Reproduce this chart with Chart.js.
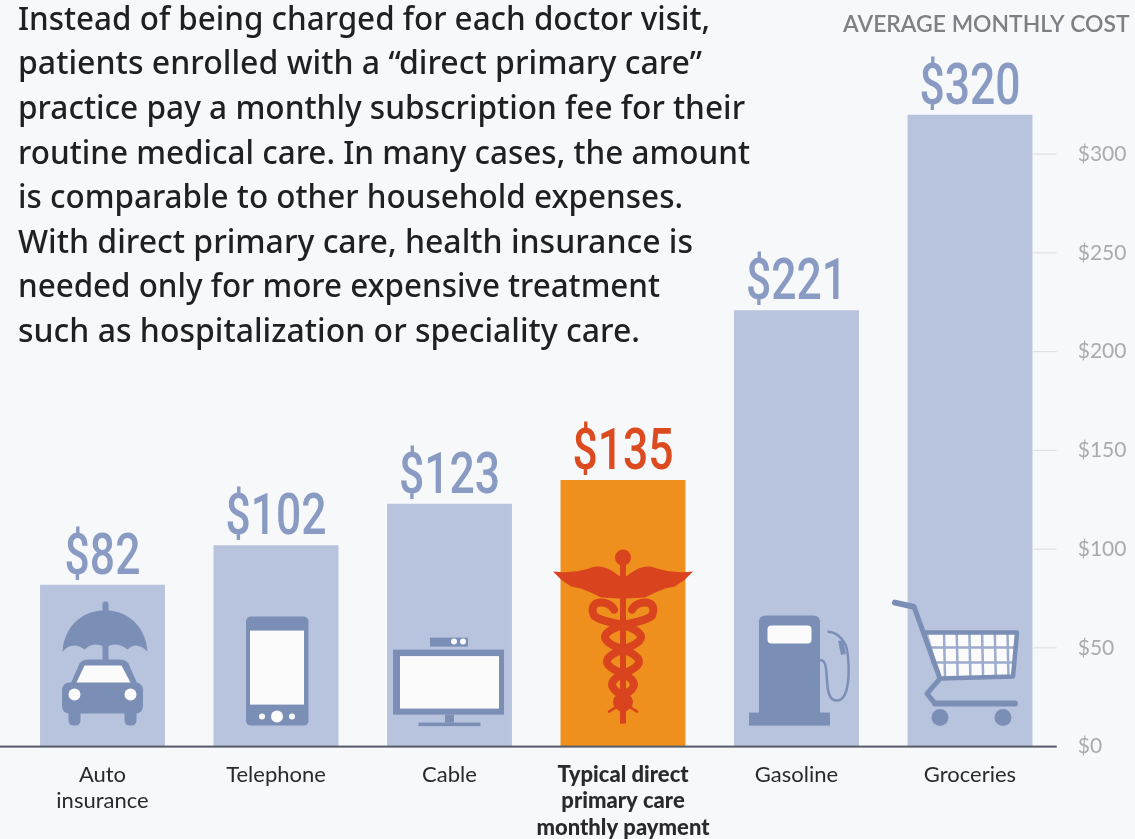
<!DOCTYPE html>
<html>
<head>
<meta charset="utf-8">
<title>Average monthly cost</title>
<script src="https://cdn.jsdelivr.net/npm/chart.js@4"></script>
<style>
	html, body { margin: 0; padding: 0; background: #f7f8fa; }
	canvas { display: block; }
</style>
</head>
<body>
<canvas id="cost-chart" width="1135" height="839"></canvas>
<script>
const categories = [
	["Auto", "insurance"],
	"Telephone",
	"Cable",
	["Typical direct", "primary care", "monthly payment"],
	"Gasoline",
	"Groceries",
];
const monthlyCost = [82, 102, 123, 135, 221, 320];
const yTickValues = [0, 50, 100, 150, 200, 250, 300];
const highlightIndex = 3;
const axisTitle = "AVERAGE MONTHLY COST";
const introLines = [
	"Instead of being charged for each doctor visit,",
	"patients enrolled with a \u201cdirect primary care\u201d",
	"practice pay a monthly subscription fee for their",
	"routine medical care. In many cases, the amount",
	"is comparable to other household expenses.",
	"With direct primary care, health insurance is",
	"needed only for more expensive treatment",
	"such as hospitalization or speciality care.",
];
const introLineEnds = [710, 702, 745, 750, 683, 693, 660, 640];

const BAR_BLUE = "#b8c3de";
const BAR_ORANGE = "#ee8f1e";
const LABEL_BLUE = "#8a9bc3";
const LABEL_RED = "#dc4a1f";
const ICON_BLUE = "#7b8fb6";
const ICON_RED = "#d9441f";
const ICON_WHITE = "#fbfbfc";

function roundRect(ctx, x, y, w, h, r) {
	ctx.beginPath();
	ctx.roundRect(x, y, w, h, r);
	ctx.fill();
}

function circle(ctx, x, y, r) {
	ctx.beginPath();
	ctx.arc(x, y, r, 0, Math.PI * 2);
	ctx.fill();
}

// All icons are drawn with the origin at the bar centre on the baseline
function drawCar(ctx) {
	ctx.fillStyle = ICON_BLUE;
	// umbrella
	roundRect(ctx, 0, -145, 6, 62, 3);
	ctx.beginPath();
	ctx.moveTo(-40, -95);
	ctx.bezierCurveTo(-36, -150, 41, -150, 45, -95);
	ctx.quadraticCurveTo(34, -106, 25, -97);
	ctx.quadraticCurveTo(14, -106, 3, -99);
	ctx.quadraticCurveTo(-8, -106, -18, -97);
	ctx.quadraticCurveTo(-30, -106, -40, -95);
	ctx.fill();
	// car
	ctx.beginPath();
	ctx.moveTo(-33, -60);
	ctx.lineTo(-23, -83);
	ctx.quadraticCurveTo(-20, -87, -14, -87);
	ctx.lineTo(17, -87);
	ctx.quadraticCurveTo(23, -87, 26, -83);
	ctx.lineTo(36, -60);
	ctx.closePath();
	ctx.fill();
	roundRect(ctx, -40.5, -64, 81, 31, 7);
	roundRect(ctx, -34, -40, 12, 19, 5);
	roundRect(ctx, 22, -40, 12, 19, 5);
	ctx.fillStyle = ICON_WHITE;
	ctx.beginPath();
	ctx.moveTo(-26, -64);
	ctx.lineTo(-18, -81);
	ctx.lineTo(19, -81);
	ctx.lineTo(28, -64);
	ctx.closePath();
	ctx.fill();
	circle(ctx, -28, -52, 6);
	circle(ctx, 28, -52, 6);
}

function drawPhone(ctx) {
	ctx.fillStyle = ICON_BLUE;
	roundRect(ctx, -30, -130, 62.5, 109, 5);
	ctx.fillStyle = ICON_WHITE;
	ctx.fillRect(-26, -116, 54, 74);
	circle(ctx, -14, -30, 3);
	circle(ctx, 1, -30, 6);
	circle(ctx, 16, -30, 3);
}

function drawTv(ctx) {
	ctx.fillStyle = ICON_BLUE;
	ctx.fillRect(-19.5, -109, 38, 9);
	ctx.fillRect(-56.5, -97, 111, 65);
	ctx.fillRect(-4.5, -32, 9, 8);
	ctx.fillRect(-31, -24, 62, 3.5);
	ctx.fillStyle = ICON_WHITE;
	ctx.fillRect(-49.5, -90.5, 99, 52.5);
	circle(ctx, 4.5, -105, 3);
	circle(ctx, 13.5, -105, 3);
}

function drawCaduceus(ctx) {
	ctx.fillStyle = ICON_RED;
	ctx.strokeStyle = ICON_RED;
	ctx.lineCap = "round";
	circle(ctx, 0, -189, 8);
	ctx.fillRect(-3, -184, 6, 161);
	// wings
	for (const s of [-1, 1]) {
		ctx.beginPath();
		ctx.moveTo(s * 3, -170);
		ctx.bezierCurveTo(s * 10, -176, s * 22, -184, s * 34, -178);
		ctx.quadraticCurveTo(s * 50, -173, s * 70, -175);
		ctx.lineTo(s * 62, -167);
		ctx.lineTo(s * 52, -160);
		ctx.lineTo(s * 42, -158);
		ctx.lineTo(s * 30, -153);
		ctx.lineTo(s * 22, -149);
		ctx.lineTo(s * 3, -148);
		ctx.closePath();
		ctx.fill();
	}
	// snakes
	const lobes = [[-122, -97, 36], [-97, -73, 32], [-73, -51, 22], [-51, -38, 12]];
	ctx.lineWidth = 8;
	for (const s of [-1, 1]) {
		ctx.beginPath();
		ctx.moveTo(s * 9, -137);
		ctx.bezierCurveTo(s * 14, -147, s * 36, -148, s * 29, -131);
		ctx.quadraticCurveTo(s * 24, -126, 0, -122);
		let side = -s;
		for (const [from, to, width] of lobes) {
			ctx.quadraticCurveTo(side * width, (from + to) / 2, 0, to);
			side = -side;
		}
		ctx.stroke();
	}
	ctx.lineWidth = 2.5;
	ctx.beginPath();
	ctx.moveTo(-14, -35);
	ctx.lineTo(0, -44);
	ctx.lineTo(14, -35);
	ctx.stroke();
}

function drawPump(ctx) {
	ctx.fillStyle = ICON_BLUE;
	ctx.strokeStyle = ICON_BLUE;
	ctx.fillRect(-47.5, -34, 81, 13);
	roundRect(ctx, -37.5, -131, 61, 100, [6, 6, 0, 0]);
	ctx.fillStyle = ICON_WHITE;
	roundRect(ctx, -29, -121, 44, 18, 4);
	ctx.lineWidth = 2.5;
	ctx.beginPath();
	ctx.moveTo(23, -86);
	ctx.bezierCurveTo(36, -90, 24, -46, 40, -46);
	ctx.bezierCurveTo(56, -46, 53, -92, 49, -102);
	ctx.quadraticCurveTo(43, -114, 31, -115);
	ctx.stroke();
	ctx.lineWidth = 5;
	ctx.beginPath();
	ctx.moveTo(44, -106);
	ctx.lineTo(47, -92);
	ctx.stroke();
}

function drawCart(ctx) {
	ctx.fillStyle = ICON_WHITE;
	ctx.beginPath();
	ctx.moveTo(-42, -114);
	ctx.lineTo(47, -114);
	ctx.lineTo(43, -69);
	ctx.lineTo(-30, -69);
	ctx.closePath();
	ctx.fill();
	ctx.strokeStyle = "#9dabcc";
	ctx.lineCap = "round";
	ctx.lineJoin = "round";
	ctx.lineWidth = 2.5;
	for (let x = -26; x <= 40; x += 12.7) {
		ctx.beginPath();
		ctx.moveTo(x, -114);
		ctx.lineTo(x + 1, -69);
		ctx.stroke();
	}
	for (const y of [-99, -84]) {
		ctx.beginPath();
		ctx.moveTo(-38, y);
		ctx.lineTo(45, y);
		ctx.stroke();
	}
	ctx.strokeStyle = ICON_BLUE;
	ctx.lineWidth = 4.5;
	ctx.beginPath();
	ctx.moveTo(-45, -114);
	ctx.lineTo(47, -114);
	ctx.lineTo(43, -70);
	ctx.lineTo(-30, -68);
	ctx.stroke();
	ctx.lineWidth = 5;
	ctx.beginPath();
	ctx.moveTo(-56, -140);
	ctx.lineTo(-30, -68);
	ctx.lineTo(-43, -53);
	ctx.lineTo(-35, -43);
	ctx.stroke();
	ctx.lineWidth = 6;
	ctx.beginPath();
	ctx.moveTo(-35, -43);
	ctx.lineTo(45, -43);
	ctx.moveTo(-75, -144);
	ctx.lineTo(-57, -140);
	ctx.stroke();
	ctx.fillStyle = ICON_BLUE;
	circle(ctx, -30, -29, 8.5);
	circle(ctx, 33, -29, 8.5);
}

const iconDrawers = [drawCar, drawPhone, drawTv, drawCaduceus, drawPump, drawCart];

const decorPlugin = {
	id: "decor",
	afterDatasetsDraw(chart) {
		const { ctx, scales, chartArea } = chart;
		const base = scales.y.getPixelForValue(0);

		// baseline
		ctx.save();
		ctx.fillStyle = "#565b68";
		ctx.fillRect(0, base - 1, chartArea.right, 2);

		// short tick marks right of the last bar
		const bars = chart.getDatasetMeta(0).data;
		const lastBar = bars[bars.length - 1];
		ctx.fillStyle = "#dcdde0";
		for (const value of yTickValues) {
			if (value === 0) continue;
			ctx.fillRect(lastBar.x + lastBar.width / 2, scales.y.getPixelForValue(value) - 0.5, chartArea.right - lastBar.x - lastBar.width / 2, 1);
		}

		// bar icons
		bars.forEach((bar, i) => {
			ctx.save();
			ctx.translate(bar.x, base);
			iconDrawers[i](ctx);
			ctx.restore();
		});

		// value labels, squeezed because no condensed face is installed
		ctx.textAlign = "center";
		ctx.textBaseline = "alphabetic";
		ctx.font = "500 57px Roboto";
		bars.forEach((bar, i) => {
			ctx.save();
			ctx.translate(bar.x, bar.y - 11);
			ctx.scale(0.78, 1);
			ctx.fillStyle = i === highlightIndex ? LABEL_RED : LABEL_BLUE;
			ctx.fillText("$" + monthlyCost[i], 0, 0);
			ctx.restore();
		});

		// axis heading
		ctx.textAlign = "left";
		ctx.fillStyle = "#7d8186";
		ctx.font = "600 22.9px Lato";
		ctx.fillText(axisTitle, 843, 32);

		// intro paragraph, each line fitted to its width in the original
		ctx.fillStyle = "#1f2024";
		ctx.font = "500 32px 'Noto Sans'";
		introLines.forEach((line, i) => {
			ctx.save();
			ctx.translate(18, 29.8 + i * 44.6);
			ctx.scale((introLineEnds[i] - 18) / ctx.measureText(line).width, 1);
			ctx.fillText(line, 0, 0);
			ctx.restore();
		});
		ctx.restore();
	},
};

new Chart(document.getElementById("cost-chart"), {
	type: "bar",
	data: {
		labels: categories,
		datasets: [
			{
				data: monthlyCost,
				backgroundColor: monthlyCost.map((v, i) => (i === highlightIndex ? BAR_ORANGE : BAR_BLUE)),
				barPercentage: 0.72,
				categoryPercentage: 1,
			},
		],
	},
	options: {
		responsive: false,
		animation: false,
		layout: { padding: { left: 15.75, top: 114.6, right: 0, bottom: 0 } },
		plugins: {
			legend: { display: false },
			tooltip: { enabled: false },
		},
		scales: {
			x: {
				grid: { display: false, drawTicks: false },
				border: { display: false },
				afterFit(scale) {
					scale.height = 92.4;
				},
				ticks: {
					autoSkip: false,
					maxRotation: 0,
					padding: 15,
					color: "#2a2a2c",
					font: ctx => ({
						family: "Lato",
						size: 22,
						weight: ctx.index === highlightIndex ? "900" : "400",
						lineHeight: 1.2,
					}),
				},
			},
			y: {
				position: "right",
				min: 0,
				max: 320,
				grid: { display: false, drawTicks: false },
				border: { display: false },
				afterFit(scale) {
					scale.width = 78.25;
				},
				ticks: {
					stepSize: 50,
					includeBounds: false,
					padding: 21,
					crossAlign: "near",
					color: "#a9abad",
					font: { family: "Lato", size: 21 },
					callback: value => "$" + value,
				},
			},
		},
	},
	plugins: [decorPlugin],
});
</script>
</body>
</html>
